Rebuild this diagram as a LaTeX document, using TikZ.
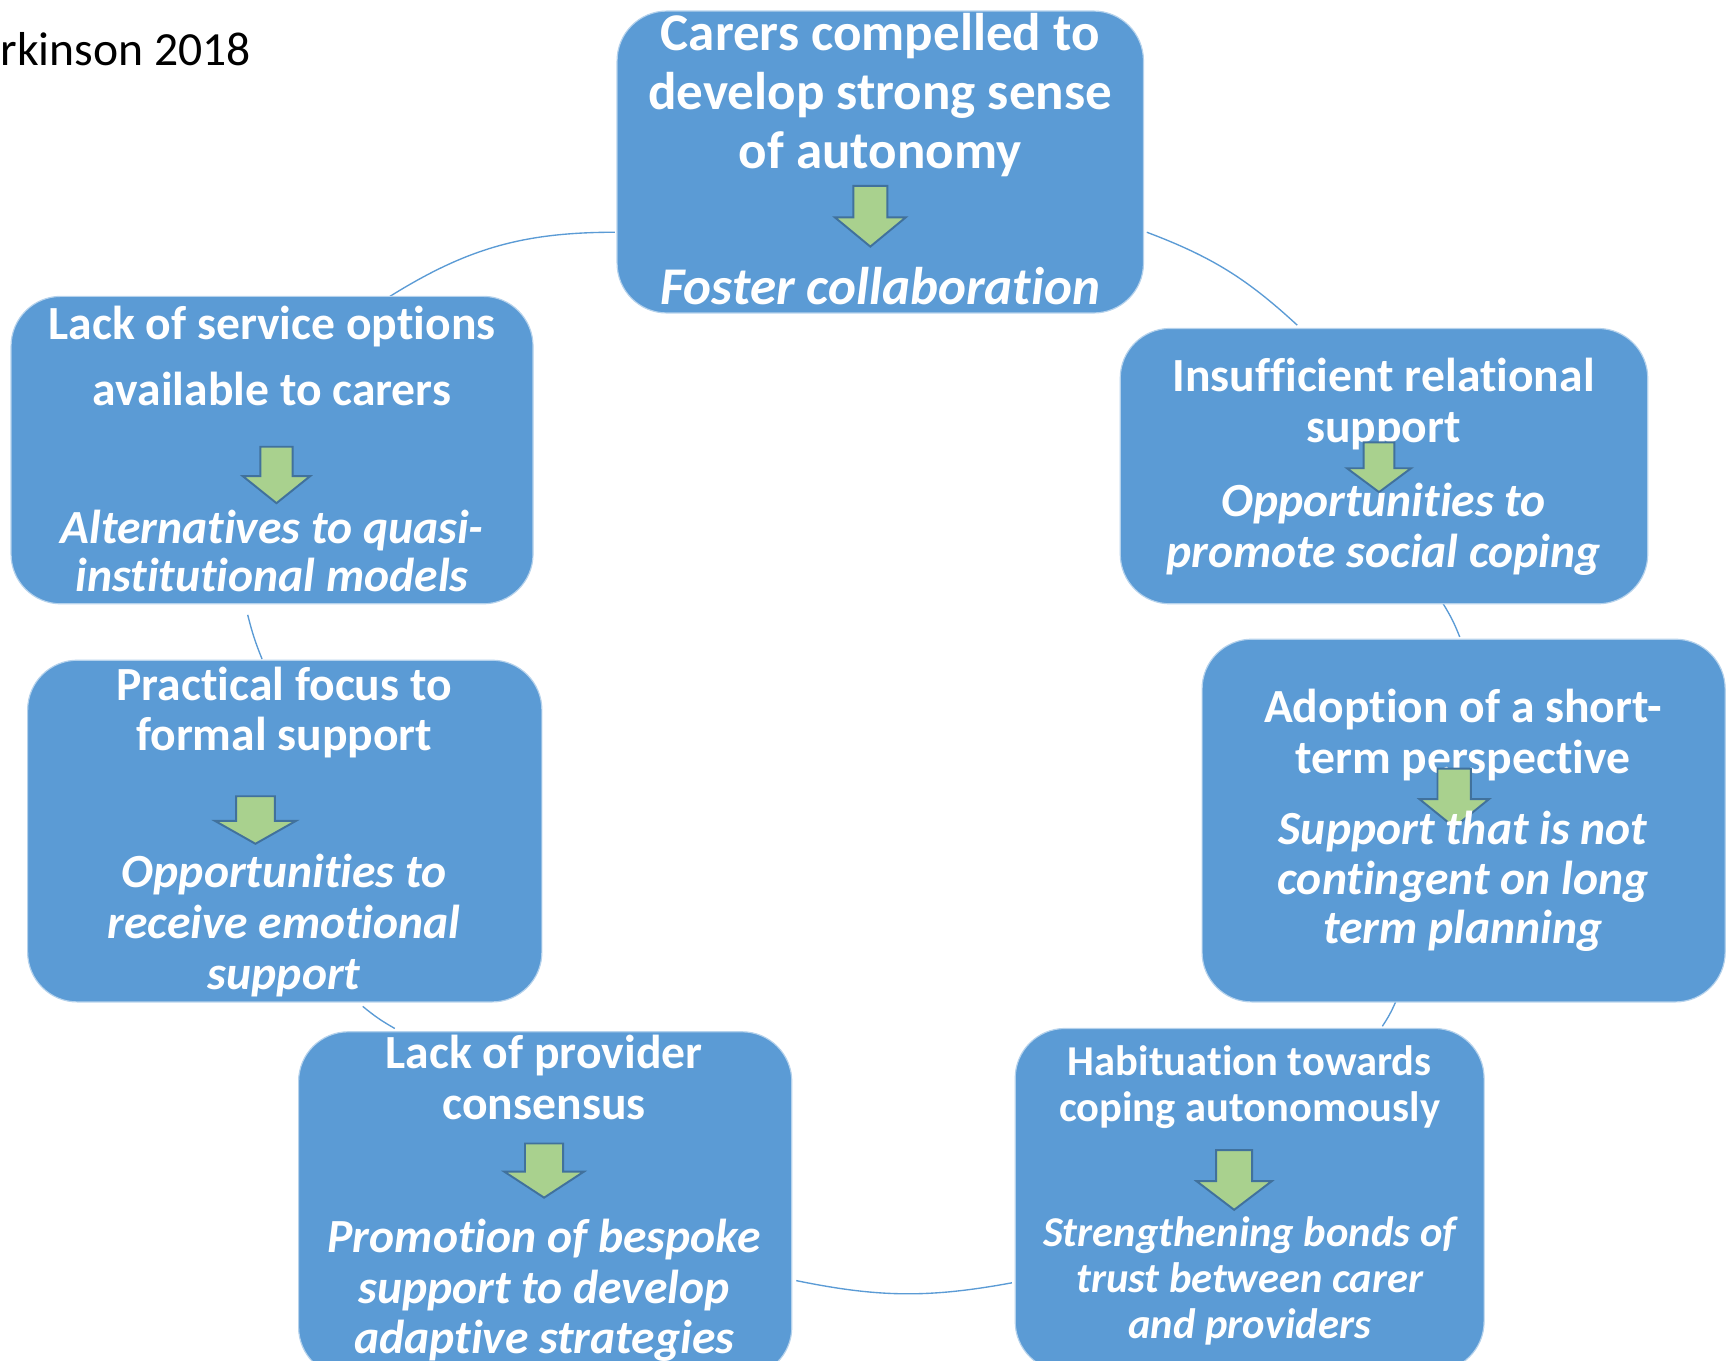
\documentclass[tikz,border=0pt]{standalone}
\usepackage{fontspec}
\setmainfont[Ligatures={NoCommon,NoRequired,NoContextual}, Contextuals=NoAlternate]{Carlito}
\usetikzlibrary{fit}

\definecolor{boxblue}{HTML}{5B9BD5}
\definecolor{arrowgreen}{HTML}{A9D18E}
\definecolor{arrowedge}{HTML}{41719C}

\newcommand{\hfont}[2]{\bfseries\fontsize{#1}{#2}\selectfont}
\newcommand{\sfont}[2]{\bfseries\itshape\fontsize{#1}{#2}\selectfont}

\tikzset{
  box/.style={fill=boxblue, draw=white!55!boxblue, line width=0.6pt, rounded corners=0.9cm, inner sep=0pt},
  head/.style={text=white, align=center, inner sep=0pt},
  link/.style={draw=boxblue, line width=0.7pt},
  downarrow/.pic={
    \draw[fill=arrowgreen, draw=arrowedge, line width=1pt]
      (-0.24,0) -- (0.24,0) -- (0.24,0.52) -- (0.5,0.52) -- (0,1) -- (-0.5,0.52) -- (-0.24,0.52) -- cycle;
  }
}

\begin{document}
\begin{tikzpicture}[x=0.02cm, y=-0.02cm]
\useasboundingbox (0,0) rectangle (1568,1230);

% reference, cut at the left edge
\node[anchor=west, inner sep=0pt, font=\fontsize{24.5}{26}\selectfont] (ref) at (0,44) {rkinson 2018};

% arcs of the cycle
\coordinate (c1s) at (556,210);  \coordinate (c1e) at (351,269);
\coordinate (c2s) at (1037,210); \coordinate (c2e) at (1173,294);
\coordinate (c3s) at (1305,546); \coordinate (c3e) at (1320,576);
\coordinate (c4s) at (1262,906); \coordinate (c4e) at (1250,928);
\coordinate (c5s) at (915,1160); \coordinate (c5e) at (720,1158);
\coordinate (c6s) at (357,930);  \coordinate (c6e) at (328,910);
\coordinate (c7s) at (237,596);  \coordinate (c7e) at (224,556);
\draw[link] (c1s) to[bend right=16] (c1e);
\draw[link] (c2s) to[bend left=11] (c2e);
\draw[link] (c3s) to[bend left=5] (c3e);
\draw[link] (c4s) to[bend left=5] (c4e);
\draw[link] (c5s) to[bend left=11] (c5e);
\draw[link] (c6s) to[bend left=5] (c6e);
\draw[link] (c7s) to[bend left=4] (c7e);

% top
\node[box, fit={(558,10) (1034,283)}] (care) {};
\node[head, font=\hfont{27.3}{30.2}] (carehead) at (796,86) {Carers compelled to\\develop strong sense\\of autonomy};
\pic[xscale=64, yscale=55] at (787,168) {downarrow};
\node[head, font=\sfont{27.3}{30.2}] (caresub) at (796,259) {Foster collaboration};

% right, upper
\node[box, fit={(1013,297) (1490,546)}] (social) {};
\node[head, font=\hfont{24.5}{26.2}] (socialhead) at (1251,365) {Insufficient relational\\support};
\pic[xscale=58, yscale=45] at (1247,400) {downarrow};
\node[head, font=\sfont{24.5}{26.2}] (socialsub) at (1251,479) {Opportunities to\\promote social coping};

% right, middle
\node[box, fit={(1087,578) (1560,906)}] (short) {};
\node[head, font=\hfont{24.5}{26.2}] (shorthead) at (1323,665) {Adoption of a short-\\term perspective};
\pic[xscale=63, yscale=53] at (1315,695) {downarrow};
\node[head, font=\sfont{24.5}{25.6}] (shortsub) at (1323,797) {Support that is not\\contingent on long\\term planning};

% bottom right
\node[box, fit={(918,930) (1342,1240)}] (habit) {};
\node[head, font=\hfont{21.9}{23.3}] (habithead) at (1130,983) {Habituation towards\\coping autonomously};
\pic[xscale=68, yscale=54] at (1116,1040) {downarrow};
\node[head, font=\sfont{21.9}{23.6}] (habitsub) at (1130,1158) {Strengthening bonds of\\trust between carer\\and providers};

% bottom left
\node[box, fit={(270,933) (716,1245)}] (consensus) {};
\node[head, font=\hfont{24.5}{26.2}] (consensushead) at (492,974) {Lack of provider\\consensus};
\pic[xscale=72, yscale=49] at (492,1034) {downarrow};
\node[head, font=\sfont{24.5}{25.9}] (consensussub) at (492,1167) {Promotion of bespoke\\support to develop\\adaptive strategies};

% left, lower
\node[box, fit={(25,597) (490,906)}] (practical) {};
\node[head, font=\hfont{24.5}{25.6}] (practicalhead) at (257,644) {Practical focus to\\formal support};
\pic[xscale=73, yscale=43] at (231,720) {downarrow};
\node[head, font=\sfont{24.5}{26.2}] (practicalsub) at (257,837) {Opportunities to\\receive emotional\\support};

% left, upper
\node[box, fit={(10,268) (482,546)}] (options) {};
\node[head, font=\hfont{24.5}{34.1}] (optionshead) at (246,322) {Lack of service options\\available to carers};
\pic[xscale=61, yscale=51] at (250,404) {downarrow};
\node[head, font=\sfont{24.5}{24.5}] (optionssub) at (246,498) {Alternatives to quasi-\\institutional models};
\end{tikzpicture}
\end{document}
